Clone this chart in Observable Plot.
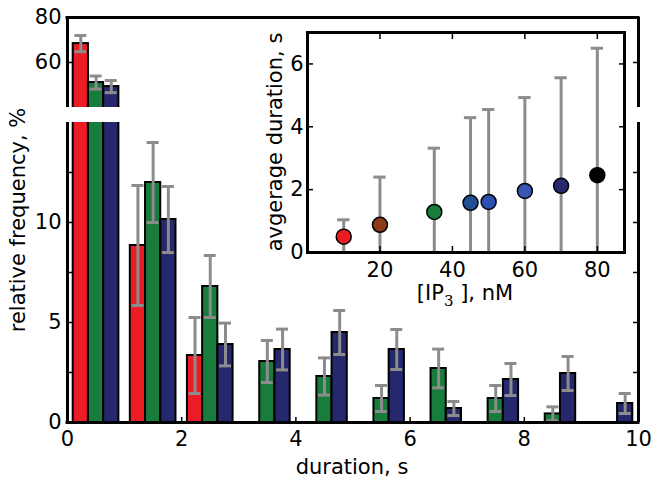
<!DOCTYPE html>
<html><head><meta charset="utf-8">
<script src="https://cdn.jsdelivr.net/npm/d3@7"></script>
<script src="https://cdn.jsdelivr.net/npm/@observablehq/plot@0.6"></script>
<style>
body{margin:0;background:#fff;}
#chart{position:relative;width:661px;height:484px;overflow:hidden;}
#chart svg{position:absolute;background:transparent;overflow:visible;}
</style></head><body><div id="chart"></div>
<script>
// ---- main histogram data (relative frequency, %) ----
const bins = [0,1,2,3,4,5,6,7,8,9];
const redFreq   = [68.4, 8.85, 3.35, 0, 0, 0, 0, 0, 0, 0];
const redErr    = [3.6, 3.0, 1.9, 0, 0, 0, 0, 0, 0, 0];
const greenFreq = [51.1, 12.0, 6.8, 3.05, 2.3, 1.2, 2.7, 1.2, 0.43, 0];
const greenErr  = [2.9, 2.0, 1.55, 1.05, 0.93, 0.65, 0.97, 0.65, 0.35, 0];
const blueFreq  = [49.3, 10.15, 3.9, 3.65, 4.5, 3.65, 0.7, 2.15, 2.45, 0.95];
const blueErr   = [2.7, 1.65, 1.07, 1.02, 1.1, 1.0, 0.35, 0.8, 0.85, 0.5];
const xTickLabels = [0,2,4,6,8,10];
const lowTickLabels = [0,5,10];
const lowTicks = [0,2.5,5,7.5,10,12.5];
const upTicks = [60,80];

// ---- inset data ----
const ip3 = [10,20,35,45,50,60,70,80];
const avgDur = [0.505, 0.88, 1.29, 1.58, 1.61, 1.96, 2.12, 2.46];
const avgDurUpper = [1.04, 2.4, 3.32, 4.29, 4.55, 4.93, 5.56, 6.5];
const ptColors = ["#ec1c24","#8b3a1a","#177c3c","#1f4f94","#2c4fb3","#3956b3","#27296c","#000000"];
const insetXTicks = [20,40,60,80];
const insetYTicks = [0,2,4,6];

const barColors = ["#ec1c24","#177c3c","#25286d"];
const errColor = "#8c8c8c";
const FONT = "DejaVu Sans";
const FS = 21;
const bw = 0.8/3;
const fmt = d => String(d);

const series = [[redFreq,redErr],[greenFreq,greenErr],[blueFreq,blueErr]].map(([f,e],i)=>
  bins.map((b,k)=>({x1:b+0.1+i*bw, x2:b+0.1+(i+1)*bw, xc:b+0.1+(i+0.5)*bw, v:f[k], e:e[k]})).filter(d=>d.v>0));

function barMarks(){
  const m=[];
  series.forEach((rows,i)=>{
    m.push(Plot.rectY(rows,{x1:"x1",x2:"x2",y1:0,y2:"v",fill:barColors[i],stroke:"black",strokeWidth:2,clip:true}));
  });
  series.forEach(rows=>{
    m.push(Plot.ruleX(rows,{x:"xc",y1:d=>d.v-d.e,y2:d=>d.v+d.e,stroke:errColor,strokeWidth:3,clip:true}));
    m.push(Plot.ruleY(rows,{y:d=>d.v+d.e,x1:d=>d.xc-0.105,x2:d=>d.xc+0.105,stroke:errColor,strokeWidth:3,clip:true}));
    m.push(Plot.ruleY(rows,{y:d=>d.v-d.e,x1:d=>d.xc-0.105,x2:d=>d.xc+0.105,stroke:errColor,strokeWidth:3,clip:true}));
  });
  return m;
}
const style = {fontFamily:FONT,fontSize:FS+"px",background:"transparent",overflow:"visible"};
const empty = ()=>"";

const upper = Plot.plot({
  width:661,height:110,marginLeft:67,marginRight:23,marginTop:17,marginBottom:3,
  x:{domain:[0,10],axis:null},y:{domain:[40,80],axis:null},style,
  marks:[
    ...barMarks(),
    Plot.axisY({ticks:upTicks,tickSize:0,tickPadding:6,tickFormat:fmt,fontSize:FS,fontFamily:FONT,label:null}),
    Plot.axisY({ticks:upTicks,tickSize:6,dx:6,tickFormat:empty,label:null,strokeWidth:1.5}),
    Plot.axisY({anchor:"right",ticks:upTicks,tickSize:6,dx:-6,tickFormat:empty,label:null,strokeWidth:1.5}),
    Plot.ruleX([0],{stroke:"black",strokeWidth:3}),
    Plot.ruleX([10],{stroke:"black",strokeWidth:3}),
    Plot.ruleY([80],{stroke:"black",strokeWidth:3,strokeLinecap:"square"})
  ]
});
upper.style.left="0px";upper.style.top="0px";

const lower = Plot.plot({
  width:661,height:374,marginLeft:67,marginRight:23,marginTop:12,marginBottom:62,
  x:{domain:[0,10],axis:null},y:{domain:[0,15],axis:null},style,
  marks:[
    ...barMarks(),
    Plot.axisY({ticks:lowTickLabels,tickSize:0,tickPadding:6,tickFormat:fmt,fontSize:FS,fontFamily:FONT,label:null}),
    Plot.axisY({ticks:lowTicks,tickSize:6,dx:6,tickFormat:empty,label:null,strokeWidth:1.5}),
    Plot.axisY({anchor:"right",ticks:lowTicks,tickSize:6,dx:-6,tickFormat:empty,label:null,strokeWidth:1.5}),
    Plot.axisX({ticks:xTickLabels,tickSize:0,tickPadding:9,tickFormat:fmt,fontSize:FS,fontFamily:FONT,label:null}),
    Plot.axisX({ticks:xTickLabels,tickSize:5,dy:-5,tickFormat:empty,label:null,strokeWidth:1.5}),
    Plot.ruleX([0],{stroke:"black",strokeWidth:3}),
    Plot.ruleX([10],{stroke:"black",strokeWidth:3}),
    Plot.ruleY([0],{stroke:"black",strokeWidth:3,strokeLinecap:"square"})
  ]
});
lower.style.left="0px";lower.style.top="110px";

const pts = ip3.map((c,i)=>({c, m:avgDur[i], u:avgDurUpper[i], s:avgDurUpper[i]-avgDur[i], col:ptColors[i]}));
const inset = Plot.plot({
  width:400,height:310,marginLeft:52,marginRight:31,marginTop:32,marginBottom:58,
  x:{domain:[0,87.5],axis:null},y:{domain:[0,7],axis:null},color:{type:"identity"},style,
  marks:[
    Plot.frame({fill:"white",stroke:null}),
    Plot.ruleX(pts,{x:"c",y1:d=>d.m-d.s,y2:d=>d.m+d.s,stroke:errColor,strokeWidth:3,clip:true}),
    Plot.ruleY(pts,{y:d=>d.m+d.s,x1:d=>d.c-1.7,x2:d=>d.c+1.7,stroke:errColor,strokeWidth:3,clip:true}),
    Plot.ruleY(pts,{y:d=>d.m-d.s,x1:d=>d.c-1.7,x2:d=>d.c+1.7,stroke:errColor,strokeWidth:3,clip:true}),
    Plot.dot(pts,{x:"c",y:"m",r:7.5,fill:"col",stroke:"black",strokeWidth:1.5}),
    Plot.axisY({ticks:insetYTicks,tickSize:0,tickPadding:4,tickFormat:fmt,fontSize:FS,fontFamily:FONT,label:null}),
    Plot.axisY({ticks:insetYTicks,tickSize:6,dx:6,tickFormat:empty,label:null,strokeWidth:1.5}),
    Plot.axisY({anchor:"right",ticks:insetYTicks,tickSize:6,dx:-6,tickFormat:empty,label:null,strokeWidth:1.5}),
    Plot.axisX({ticks:insetXTicks,tickSize:0,tickPadding:10,tickFormat:fmt,fontSize:FS,fontFamily:FONT,label:null}),
    Plot.axisX({ticks:insetXTicks,tickSize:6,dy:-6,tickFormat:empty,label:null,strokeWidth:1.5}),
    Plot.axisX({anchor:"top",ticks:insetXTicks,tickSize:6,dy:6,tickFormat:empty,label:null,strokeWidth:1.5}),
    Plot.frame({stroke:"black",strokeWidth:3})
  ]
});
inset.style.left="255px";inset.style.top="0px";

const root = document.getElementById("chart");
root.append(upper, lower, inset);

// axis titles
const svg = d3.select(root).append("svg").attr("width",661).attr("height",484)
  .style("left","0px").style("top","0px")
  .attr("font-family",FONT).attr("font-size",FS).attr("fill","black");
svg.append("text").attr("transform","translate(25,220) rotate(-90)").attr("text-anchor","middle").text("relative frequency, %");
svg.append("text").attr("x",352).attr("y",474).attr("text-anchor","middle").text("duration, s");
svg.append("text").attr("transform","translate(282,142) rotate(-90)").attr("text-anchor","middle").text("avgerage duration, s");
const ipt = svg.append("text").attr("x",465).attr("y",300).attr("text-anchor","middle");
ipt.append("tspan").text("[IP");
ipt.append("tspan").attr("dy",6).attr("font-family","DejaVu Serif").attr("font-size",15).text("3");
ipt.append("tspan").attr("dy",-6).text(" ], nM");
</script></body></html>
